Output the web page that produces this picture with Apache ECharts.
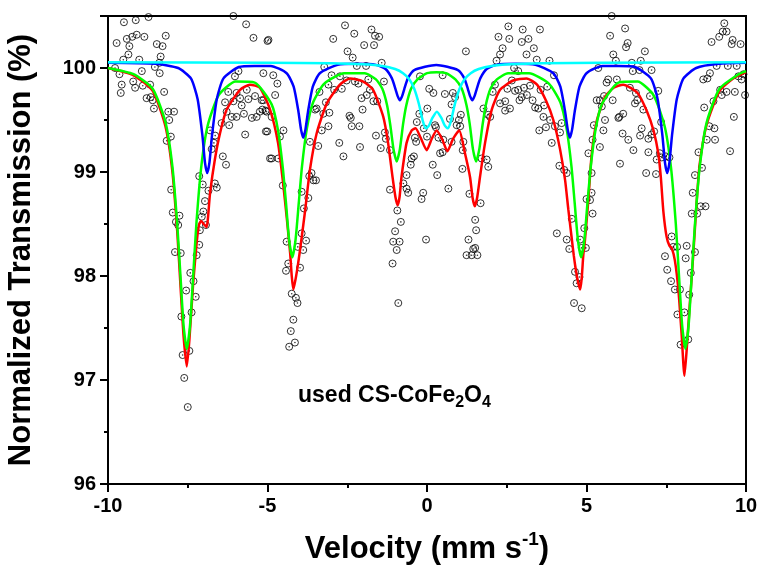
<!DOCTYPE html>
<html>
<head>
<meta charset="utf-8">
<script src="https://cdn.jsdelivr.net/npm/echarts@6/dist/echarts.min.js"></script>
<style>
  html, body { margin: 0; padding: 0; background: #fff; }
  #main { width: 763px; height: 571px; }
</style>
</head>
<body>
<div id="main"></div>
<script>
// measured points (velocity mm/s, transmission %)
const measured = [
  [-9.78,100.00],[-9.73,100.24],[-9.64,99.94],[-9.60,99.76],[-9.57,99.84],[-9.52,100.08],[-9.50,100.44],[-9.41,100.28],
  [-9.36,100.13],[-9.33,100.21],[-9.24,100.30],[-9.21,99.87],[-9.15,99.81],[-9.13,100.46],[-9.10,100.32],[-9.02,100.08],
  [-8.94,99.97],[-8.91,99.83],[-8.86,100.30],[-8.79,99.71],[-8.73,100.49],[-8.68,99.84],[-8.66,99.72],[-8.60,99.69],
  [-8.56,99.61],[-8.53,100.01],[-8.47,100.23],[-8.39,100.05],[-8.38,99.95],[-8.35,100.11],[-8.29,100.21],[-8.24,99.77],
  [-8.19,100.31],[-8.16,99.30],[-8.11,99.58],[-8.08,99.50],[-8.03,99.34],[-8.02,98.83],[-7.97,98.61],[-7.93,99.58],
  [-7.90,98.23],[-7.87,98.52],[-7.80,98.49],[-7.76,98.58],[-7.72,98.22],[-7.70,97.61],[-7.66,97.24],[-7.61,97.02],
  [-7.55,97.86],[-7.50,96.74],[-7.45,97.28],[-7.42,98.03],[-7.38,97.65],[-7.32,97.95],[-7.25,97.80],[-7.22,98.20],
  [-7.14,98.30],[-7.14,98.96],[-7.12,98.44],[-7.06,98.57],[-7.03,98.88],[-7.01,98.62],[-6.96,98.72],[-6.93,98.49],
  [-6.85,98.82],[-6.80,99.40],[-6.75,99.22],[-6.68,99.28],[-6.65,98.89],[-6.64,99.35],[-6.59,98.85],[-6.44,99.47],
  [-6.40,99.15],[-6.33,99.67],[-6.30,99.07],[-6.28,99.58],[-6.23,99.77],[-6.20,99.45],[-6.12,99.53],[-6.07,100.50],
  [-6.07,99.68],[-6.02,99.92],[-5.97,99.76],[-5.97,99.53],[-5.91,99.97],[-5.86,99.71],[-5.81,99.64],[-5.74,99.56],
  [-5.70,99.36],[-5.67,100.42],[-5.65,99.79],[-5.60,99.70],[-5.49,99.52],[-5.44,100.29],[-5.39,99.73],[-5.34,99.53],
  [-5.24,99.58],[-5.18,99.69],[-5.16,99.60],[-5.13,99.69],[-5.13,99.95],[-5.06,99.59],[-5.05,99.39],[-5.03,99.58],
  [-5.01,99.39],[-5.00,100.26],[-4.97,100.27],[-4.92,99.13],[-4.87,99.53],[-4.87,99.13],[-4.82,99.93],[-4.76,99.74],
  [-4.69,99.85],[-4.66,99.13],[-4.61,99.34],[-4.52,98.87],[-4.50,99.40],[-4.42,98.05],[-4.40,98.33],[-4.35,98.12],
  [-4.32,97.32],[-4.27,97.47],[-4.24,97.83],[-4.19,97.58],[-4.14,97.36],[-4.11,97.79],[-4.06,97.74],[-4.05,98.28],
  [-3.98,98.08],[-3.93,98.81],[-3.93,98.41],[-3.88,98.25],[-3.86,98.65],[-3.79,98.34],[-3.72,98.75],[-3.69,98.96],
  [-3.67,99.29],[-3.62,98.99],[-3.56,98.92],[-3.51,99.60],[-3.48,98.92],[-3.46,99.61],[-3.41,99.25],[-3.37,99.77],
  [-3.30,99.40],[-3.25,99.56],[-3.22,100.01],[-3.17,99.67],[-3.09,99.84],[-3.09,99.44],[-3.06,99.57],[-2.99,99.93],
  [-2.94,100.28],[-2.91,99.79],[-2.75,99.28],[-2.73,99.92],[-2.67,99.80],[-2.62,99.15],[-2.57,100.41],[-2.52,99.88],
  [-2.49,100.16],[-2.43,99.54],[-2.39,99.52],[-2.36,99.44],[-2.33,100.10],[-2.28,100.33],[-2.26,99.87],[-2.20,100.02],
  [-2.15,99.85],[-2.12,99.44],[-2.10,99.24],[-2.05,99.71],[-2.02,99.60],[-1.97,100.22],[-1.91,100.02],[-1.89,99.74],
  [-1.84,99.89],[-1.79,99.79],[-1.74,100.37],[-1.68,99.68],[-1.66,100.22],[-1.63,100.31],[-1.60,99.35],[-1.56,99.68],
  [-1.50,100.30],[-1.45,99.23],[-1.42,100.05],[-1.35,99.87],[-1.32,99.38],[-1.29,99.32],[-1.16,99.21],[-1.16,98.83],
  [-1.08,98.12],[-1.06,98.33],[-1.00,98.43],[-0.95,98.25],[-0.93,98.63],[-0.90,97.74],[-0.86,98.33],[-0.82,98.52],
  [-0.74,98.89],[-0.64,98.84],[-0.64,98.97],[-0.59,98.80],[-0.51,99.07],[-0.48,99.13],[-0.41,99.15],[-0.38,99.33],
  [-0.34,99.29],[-0.32,99.48],[-0.24,99.56],[-0.22,99.92],[-0.17,98.74],[-0.12,98.80],[-0.10,99.42],[-0.03,98.35],
  [0.00,99.34],[0.01,99.61],[0.07,99.80],[0.18,99.07],[0.20,99.76],[0.25,99.45],[0.28,99.43],[0.32,98.97],
  [0.36,99.33],[0.41,99.18],[0.49,99.19],[0.49,99.93],[0.51,99.31],[0.56,99.75],[0.67,98.84],[0.72,99.51],
  [0.77,99.65],[0.77,99.29],[0.81,99.76],[0.88,99.72],[0.93,99.45],[1.00,99.50],[1.04,99.44],[1.06,99.55],
  [1.11,99.03],[1.12,99.21],[1.14,99.29],[1.22,100.16],[1.24,98.20],[1.30,98.35],[1.33,98.79],[1.40,98.20],
  [1.45,98.26],[1.51,98.27],[1.54,98.44],[1.58,98.20],[1.51,98.54],[1.68,98.70],[1.71,99.13],[1.77,99.61],
  [1.87,99.12],[1.92,99.05],[1.92,99.55],[1.98,99.53],[2.06,99.77],[2.13,99.84],[2.18,100.07],[2.24,100.30],
  [2.29,100.13],[2.29,99.66],[2.37,100.19],[2.45,99.68],[2.45,99.59],[2.52,99.80],[2.55,100.40],[2.58,100.28],
  [2.60,99.61],[2.66,99.88],[2.73,100.00],[2.76,99.78],[2.86,99.97],[2.86,99.79],[2.90,99.69],[2.97,100.25],
  [2.97,99.72],[3.00,100.37],[3.04,99.81],[3.12,100.13],[3.13,99.74],[3.18,100.28],[3.23,99.83],[3.31,99.69],
  [3.35,100.19],[3.39,99.62],[3.44,100.08],[3.49,99.61],[3.52,99.40],[3.54,100.37],[3.56,99.79],[3.65,99.53],
  [3.67,99.64],[3.73,99.43],[3.77,99.82],[3.84,100.07],[3.86,99.50],[3.91,99.28],[3.98,99.93],[4.01,99.44],
  [4.07,98.41],[4.15,99.06],[4.17,99.38],[4.22,99.47],[4.30,99.02],[4.38,98.99],[4.38,98.35],[4.46,98.26],
  [4.54,98.55],[4.61,97.74],[4.64,98.04],[4.69,97.93],[4.78,97.99],[4.80,98.35],[4.85,98.27],[4.85,97.69],
  [4.93,98.46],[4.98,98.27],[5.00,98.74],[5.06,99.18],[5.11,98.73],[5.16,98.80],[5.16,98.99],[5.19,98.60],
  [5.19,99.31],[5.23,99.45],[5.32,99.69],[5.37,100.00],[5.42,99.69],[5.42,99.24],[5.48,99.63],[5.53,99.40],
  [5.55,99.73],[5.58,99.50],[5.63,99.86],[5.68,99.89],[5.74,100.31],[5.79,100.50],[5.82,99.69],[5.84,100.13],
  [5.92,100.07],[5.95,99.89],[6.00,99.52],[6.03,99.53],[6.05,99.08],[6.13,99.37],[6.15,99.56],[6.21,100.38],
  [6.24,100.20],[6.29,100.24],[6.31,99.31],[6.36,99.81],[6.42,100.05],[6.45,99.97],[6.47,99.21],[6.52,99.66],
  [6.55,99.76],[6.59,99.69],[6.66,99.98],[6.68,99.35],[6.70,100.07],[6.73,99.42],[6.78,99.60],[6.83,100.16],
  [6.87,98.99],[6.94,99.32],[6.94,99.19],[6.99,99.73],[7.04,99.98],[7.04,99.36],[7.12,99.39],[7.18,98.98],
  [7.20,99.12],[7.25,99.78],[7.30,99.18],[7.34,99.48],[7.36,99.14],[7.49,99.15],[7.60,99.14],[7.46,98.19],
  [7.53,98.06],[7.65,97.95],[7.67,98.38],[7.72,98.28],[7.77,97.87],[7.85,97.63],[7.84,98.28],[7.93,97.87],
  [7.95,97.34],[8.07,97.65],[8.11,98.17],[8.14,98.29],[8.19,97.39],[8.22,97.82],[8.27,98.03],[8.30,98.60],
  [8.33,98.80],[8.40,98.23],[8.40,98.97],[8.47,98.60],[8.51,99.19],[8.58,98.67],[8.62,99.04],[8.66,99.89],
  [8.69,99.62],[8.73,98.67],[8.77,99.31],[8.79,99.90],[8.85,99.44],[8.87,99.95],[8.92,100.25],[8.98,99.68],
  [9.01,99.42],[9.03,99.31],[9.08,100.02],[9.16,100.30],[9.19,99.79],[9.24,99.74],[9.27,100.35],[9.32,100.43],
  [9.39,100.35],[9.39,99.77],[9.43,100.02],[9.50,99.20],[9.55,100.23],[9.58,100.27],[9.62,99.53],[9.65,99.77],
  [9.71,100.02],[9.76,99.92],[9.83,100.23],[9.86,99.89],[9.92,99.94],[9.97,99.74]
];

// total fit (red)
const fitTotal = [
  [-10,100.00],[-9.2,99.93],[-8.6,99.78],[-8.2,99.44],[-7.98,99.00],[-7.83,98.43],[-7.73,97.92],[-7.63,97.42],
  [-7.53,97.13],[-7.45,97.38],[-7.33,97.93],[-7.22,98.32],[-7.15,98.49],[-7.08,98.53],[-7.0,98.50],[-6.91,98.47],
  [-6.80,98.80],[-6.65,99.12],[-6.49,99.37],[-6.28,99.60],[-5.86,99.79],[-5.55,99.84],[-5.24,99.81],[-4.92,99.60],
  [-4.67,99.28],[-4.51,98.89],[-4.40,98.57],[-4.29,98.22],[-4.24,98.00],[-4.19,97.87],[-4.12,97.97],[-4.05,98.10],
  [-3.98,98.25],[-3.82,98.63],[-3.67,99.02],[-3.46,99.37],[-3.14,99.66],[-2.73,99.84],[-2.41,99.90],[-2.0,99.87],
  [-1.69,99.79],[-1.37,99.53],[-1.22,99.28],[-1.08,98.95],[-0.99,98.76],[-0.92,98.68],[-0.86,98.76],[-0.80,98.95],
  [-0.64,99.28],[-0.48,99.40],[-0.36,99.42],[-0.2,99.33],[-0.01,99.21],[0.15,99.32],[0.30,99.40],[0.47,99.32],
  [0.64,99.20],[0.82,99.32],[1.01,99.40],[1.19,99.18],[1.35,98.95],[1.43,98.75],[1.50,98.67],[1.57,98.75],
  [1.66,98.95],[1.82,99.28],[2.03,99.60],[2.29,99.79],[2.7,99.88],[3.12,99.90],[3.45,99.84],[3.74,99.68],
  [3.96,99.50],[4.17,99.22],[4.33,98.92],[4.43,98.64],[4.53,98.38],[4.60,98.20],[4.66,98.07],[4.73,97.95],
  [4.80,97.87],[4.85,97.98],[4.90,98.20],[4.95,98.34],[5.06,98.74],[5.16,99.16],[5.32,99.49],[5.58,99.72],
  [5.85,99.81],[6.15,99.84],[6.6,99.76],[6.9,99.58],[7.1,99.40],[7.25,99.18],[7.33,98.95],[7.41,98.62],
  [7.51,98.38],[7.60,98.29],[7.67,98.27],[7.77,98.15],[7.88,97.87],[7.98,97.45],[8.07,97.04],[8.14,97.29],
  [8.24,97.74],[8.35,98.22],[8.45,98.70],[8.55,99.08],[8.77,99.46],[9.17,99.78],[9.6,99.90],[10,99.96]
];

// sextet 1 (green)
const sextet1 = [
  [-10,100.00],[-9.2,99.94],[-8.6,99.80],[-8.2,99.48],[-7.98,99.05],[-7.83,98.50],[-7.73,98.01],[-7.63,97.52],
  [-7.53,97.30],[-7.43,97.52],[-7.33,98.00],[-7.23,98.50],[-7.08,99.04],[-6.88,99.44],[-6.53,99.74],[-6.0,99.87],
  [-5.4,99.86],[-4.87,99.65],[-4.67,99.40],[-4.52,99.04],[-4.42,98.70],[-4.32,98.34],[-4.22,98.18],[-4.12,98.35],
  [-4.02,98.70],[-3.92,99.05],[-3.77,99.41],[-3.57,99.67],[-3.22,99.85],[-2.6,99.95],[-1.95,99.95],[-1.6,99.89],
  [-1.4,99.80],[-1.25,99.64],[-1.15,99.45],[-1.05,99.22],[-0.95,99.10],[-0.85,99.22],[-0.75,99.46],[-0.65,99.64],
  [-0.5,99.80],[-0.3,99.89],[0.0,99.95],[0.3,99.96],[0.6,99.95],[0.89,99.89],[1.09,99.80],[1.24,99.64],
  [1.34,99.46],[1.44,99.22],[1.54,99.10],[1.64,99.22],[1.74,99.45],[1.84,99.64],[1.99,99.80],[2.19,99.89],
  [2.54,99.95],[3.2,99.95],[3.82,99.85],[4.18,99.67],[4.38,99.41],[4.53,99.05],[4.63,98.70],[4.73,98.35],
  [4.83,98.18],[4.93,98.34],[5.03,98.70],[5.13,99.04],[5.28,99.40],[5.48,99.65],[6.0,99.86],[6.6,99.87],
  [7.1,99.74],[7.45,99.44],[7.65,99.04],[7.8,98.50],[7.9,98.00],[8.0,97.52],[8.1,97.30],[8.2,97.52],
  [8.3,98.01],[8.4,98.50],[8.55,99.05],[8.77,99.48],[9.17,99.80],[9.77,99.94],[10,99.97]
];

// sextet 2 (blue)
const sextet2 = [
  [-10,100.05],[-8.5,100.04],[-7.8,100.00],[-7.4,99.90],[-7.19,99.70],[-7.04,99.35],[-6.96,99.09],[-6.89,98.99],
  [-6.82,99.09],[-6.74,99.35],[-6.59,99.70],[-6.38,99.90],[-5.9,100.01],[-5.4,100.02],[-4.9,100.02],[-4.4,99.95],
  [-4.18,99.82],[-4.03,99.58],[-3.95,99.41],[-3.88,99.33],[-3.81,99.41],[-3.73,99.58],[-3.58,99.82],[-3.36,99.95],
  [-2.8,100.03],[-2.2,100.04],[-1.6,100.03],[-1.3,99.99],[-1.1,99.90],[-0.99,99.80],[-0.92,99.73],[-0.85,99.69],
  [-0.78,99.73],[-0.71,99.80],[-0.6,99.90],[-0.4,99.98],[0.29,100.03],[0.97,99.98],[1.17,99.90],[1.28,99.80],
  [1.35,99.73],[1.42,99.69],[1.49,99.73],[1.56,99.80],[1.67,99.90],[1.87,99.99],[2.17,100.03],[2.8,100.04],
  [3.4,100.03],[3.96,99.95],[4.18,99.82],[4.33,99.58],[4.41,99.41],[4.48,99.33],[4.55,99.41],[4.63,99.58],
  [4.78,99.82],[5.0,99.95],[5.5,100.02],[6.0,100.02],[6.52,100.01],[7.02,99.90],[7.23,99.70],[7.38,99.35],
  [7.46,99.09],[7.53,98.99],[7.60,99.09],[7.68,99.35],[7.83,99.70],[8.04,99.90],[8.44,100.00],[9.14,100.04],
  [10,100.05]
];

// doublet (cyan)
const doublet = [
  [-10,100.055],[-5,100.05],[-3,100.046],[-2,100.036],[-1.4,100.02],[-1.0,99.99],[-0.75,99.95],[-0.55,99.89],
  [-0.4,99.80],[-0.25,99.65],[-0.13,99.49],[-0.03,99.42],[0.07,99.45],[0.17,99.52],[0.31,99.58],[0.45,99.52],
  [0.55,99.45],[0.65,99.42],[0.75,99.49],[0.87,99.65],[1.02,99.80],[1.17,99.89],[1.37,99.95],[1.62,99.99],
  [2.02,100.02],[2.62,100.036],[3.62,100.046],[5.5,100.05],[10,100.055]
];

const xTicks = { min: -10, max: 10, step: 5 };
const yTicks = { min: 96, max: 100.5, step: 1 };

const chart = echarts.init(document.getElementById('main'));

const font = 'Liberation Sans, Arial, sans-serif';

const line = (name, data, color) => ({
  name: name,
  type: 'line',
  data: data,
  showSymbol: false,
  smooth: 0.2,
  silent: true,
  lineStyle: { color: color, width: 2.5 },
  z: 3
});

const option = {
  animation: false,
  backgroundColor: '#fff',
  grid: {
    left: 108, right: 17, top: 16, bottom: 87,
    show: true, borderColor: '#000', borderWidth: 2,
    outerBoundsMode: 'none'
  },
  xAxis: {
    type: 'value',
    min: xTicks.min, max: xTicks.max, interval: xTicks.step,
    name: '{a|Velocity (mm s}{b|-1}{a|)}',
    nameLocation: 'middle',
    nameGap: 46,
    nameTextStyle: {
      rich: {
        a: { fontFamily: font, fontWeight: 'bold', fontSize: 31, color: '#000', lineHeight: 38 },
        b: { fontFamily: font, fontWeight: 'bold', fontSize: 19, color: '#000', lineHeight: 28, verticalAlign: 'top' }
      }
    },
    axisLine: { onZero: false, lineStyle: { color: '#000', width: 2 } },
    axisTick: { inside: false, length: 8, lineStyle: { color: '#000', width: 2 } },
    minorTick: { show: true, splitNumber: 2, length: 4, lineStyle: { color: '#000', width: 2 } },
    splitLine: { show: false },
    axisLabel: { margin: 12, fontFamily: font, fontWeight: 'bold', fontSize: 20, color: '#000' }
  },
  yAxis: {
    type: 'value',
    min: yTicks.min, max: yTicks.max, interval: yTicks.step,
    name: 'Normalized Transmission (%)',
    nameLocation: 'middle',
    nameRotate: 90,
    nameGap: 71,
    nameTextStyle: { fontFamily: font, fontWeight: 'bold', fontSize: 31, color: '#000' },
    axisLine: { show: true, onZero: false, lineStyle: { color: '#000', width: 2 } },
    axisTick: { show: true, inside: false, length: 8, lineStyle: { color: '#000', width: 2 } },
    minorTick: { show: true, splitNumber: 2, length: 4, lineStyle: { color: '#000', width: 2 } },
    splitLine: { show: false },
    axisLabel: {
      margin: 12, fontFamily: font, fontWeight: 'bold', fontSize: 20, color: '#000',
      formatter: v => (Math.abs(v - Math.round(v)) < 1e-6 ? String(Math.round(v)) : '')
    }
  },
  graphic: [{
    type: 'text',
    left: 298,
    top: 384,
    style: {
      text: '{a|used CS-CoFe}{s|2}{a|O}{s|4}',
      rich: {
        a: { fontFamily: font, fontWeight: 'bold', fontSize: 23, fill: '#000', lineHeight: 30 },
        s: { fontFamily: font, fontWeight: 'bold', fontSize: 16, fill: '#000', lineHeight: 16, verticalAlign: 'bottom' }
      }
    }
  }],
  series: [
    {
      name: 'ring', type: 'scatter', data: measured, symbol: 'circle', symbolSize: 7, silent: true,
      itemStyle: { color: 'rgba(0,0,0,0)', borderColor: '#000', borderWidth: 1 }, z: 2
    },
    {
      name: 'dot', type: 'scatter', data: measured, symbol: 'circle', symbolSize: 1.6, silent: true,
      itemStyle: { color: '#000' }, z: 2
    },
    line('total', fitTotal, '#ff0000'),
    line('sextet A', sextet1, '#00ff00'),
    line('sextet B', sextet2, '#0000ff'),
    line('doublet', doublet, '#00ffff')
  ]
};

chart.setOption(option);
</script>
</body>
</html>
